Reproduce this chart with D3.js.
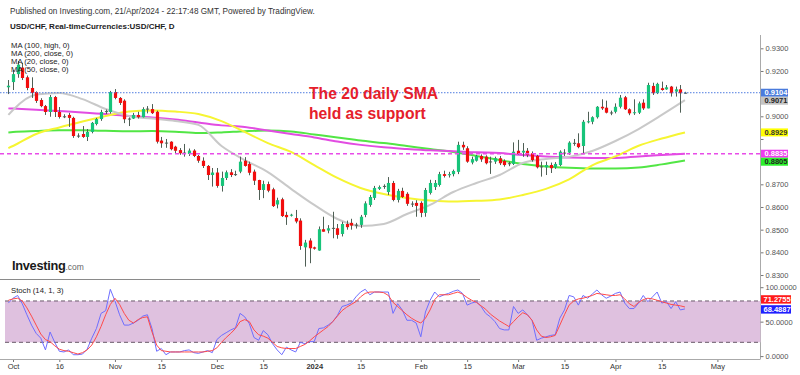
<!DOCTYPE html>
<html><head><meta charset="utf-8">
<script src="https://cdn.jsdelivr.net/npm/d3@7/dist/d3.min.js"></script>
<style>body{margin:0;background:#fff}svg{display:block;font-family:"Liberation Sans",Arial,sans-serif}</style>
</head><body><svg id="c" width="800" height="375"></svg>
<script>
// ---- DATA ----
// candle index 0 = 2 Oct 2023 (first trading day of October); first candle is index -1 (29 Sep)
const firstIndex = -1;
const opens  = [0.9128,0.9151,0.9186,0.9215,0.9172,0.9125,0.9107,0.9072,0.9045,0.9019,0.9085,0.9019,0.9000,0.9006,0.8993,0.8915,0.8922,0.8909,0.8931,0.8966,0.8988,0.9023,0.9019,0.9107,0.9081,0.9069,0.8987,0.8990,0.9006,0.8996,0.9030,0.9032,0.9020,0.8893,0.8883,0.8888,0.8866,0.8851,0.8838,0.8834,0.8849,0.8825,0.8804,0.8781,0.8741,0.8752,0.8693,0.8728,0.8753,0.8742,0.8756,0.8804,0.8790,0.8756,0.8719,0.8675,0.8701,0.8678,0.8611,0.8634,0.8565,0.8562,0.8551,0.8540,0.8422,0.8452,0.8422,0.8408,0.8502,0.8496,0.8506,0.8506,0.8481,0.8525,0.8530,0.8519,0.8521,0.8565,0.8609,0.8640,0.8680,0.8690,0.8666,0.8706,0.8631,0.8671,0.8658,0.8612,0.8618,0.8618,0.8574,0.8662,0.8688,0.8697,0.8745,0.8740,0.8745,0.8755,0.8874,0.8859,0.8796,0.8804,0.8825,0.8822,0.8798,0.8800,0.8815,0.8803,0.8790,0.8790,0.8848,0.8840,0.8848,0.8837,0.8825,0.8776,0.8775,0.8785,0.8775,0.8785,0.8840,0.8840,0.8880,0.8881,0.8869,0.8974,0.8976,0.8996,0.9042,0.9038,0.9014,0.9020,0.9042,0.9084,0.9031,0.9014,0.9016,0.9060,0.9035,0.9134,0.9102,0.9124,0.9119,0.9131,0.9109,0.9119,0.9104];
const highs  = [0.9160,0.9204,0.9244,0.9236,0.9180,0.9172,0.9110,0.9080,0.9050,0.9094,0.9090,0.9041,0.9009,0.9015,0.8998,0.8925,0.8957,0.8944,0.8975,0.8993,0.9029,0.9030,0.9112,0.9120,0.9085,0.9075,0.8995,0.9015,0.9020,0.9040,0.9045,0.9054,0.9025,0.8909,0.8900,0.8890,0.8870,0.8860,0.8878,0.8858,0.8855,0.8830,0.8819,0.8785,0.8772,0.8772,0.8756,0.8761,0.8767,0.8760,0.8822,0.8820,0.8800,0.8765,0.8720,0.8716,0.8712,0.8685,0.8641,0.8641,0.8579,0.8570,0.8587,0.8550,0.8455,0.8462,0.8425,0.8514,0.8557,0.8520,0.8579,0.8525,0.8535,0.8540,0.8548,0.8530,0.8565,0.8625,0.8653,0.8693,0.8695,0.8700,0.8732,0.8715,0.8680,0.8685,0.8665,0.8625,0.8630,0.8625,0.8684,0.8720,0.8719,0.8755,0.8760,0.8755,0.8765,0.8888,0.8888,0.8868,0.8822,0.8830,0.8832,0.8828,0.8822,0.8822,0.8825,0.8810,0.8800,0.8885,0.8896,0.8882,0.8860,0.8845,0.8830,0.8800,0.8800,0.8796,0.8798,0.8850,0.8855,0.8890,0.8900,0.8925,0.8984,0.9020,0.9000,0.9045,0.9075,0.9069,0.9025,0.9057,0.9094,0.9090,0.9035,0.9075,0.9065,0.9075,0.9148,0.9148,0.9148,0.9153,0.9138,0.9134,0.9131,0.9138,0.9108];
const lows   = [0.9098,0.9116,0.9170,0.9160,0.9115,0.9081,0.9059,0.9040,0.9006,0.8998,0.8997,0.8990,0.8992,0.8953,0.8905,0.8905,0.8905,0.8891,0.8925,0.8960,0.8980,0.9010,0.9012,0.9075,0.9050,0.8970,0.8957,0.8988,0.8990,0.8995,0.9013,0.9010,0.8880,0.8861,0.8861,0.8850,0.8834,0.8830,0.8822,0.8825,0.8820,0.8795,0.8772,0.8719,0.8690,0.8685,0.8668,0.8719,0.8732,0.8737,0.8749,0.8778,0.8740,0.8697,0.8631,0.8639,0.8665,0.8600,0.8594,0.8556,0.8521,0.8558,0.8528,0.8411,0.8337,0.8352,0.8412,0.8407,0.8491,0.8484,0.8462,0.8460,0.8470,0.8500,0.8500,0.8505,0.8508,0.8555,0.8601,0.8631,0.8675,0.8680,0.8653,0.8625,0.8620,0.8640,0.8605,0.8600,0.8557,0.8555,0.8557,0.8655,0.8675,0.8690,0.8730,0.8730,0.8735,0.8745,0.8852,0.8795,0.8788,0.8800,0.8799,0.8788,0.8746,0.8790,0.8785,0.8778,0.8780,0.8785,0.8830,0.8821,0.8820,0.8800,0.8770,0.8734,0.8741,0.8750,0.8768,0.8780,0.8825,0.8830,0.8870,0.8859,0.8837,0.8969,0.8965,0.8990,0.9028,0.9013,0.9005,0.9013,0.9035,0.9028,0.9005,0.9006,0.9010,0.9028,0.9035,0.9094,0.9098,0.9113,0.9117,0.9087,0.9087,0.9016,0.9100];
const closes = [0.9135,0.9186,0.9228,0.9169,0.9125,0.9103,0.9068,0.9045,0.9019,0.9085,0.9019,0.8997,0.8997,0.8993,0.8913,0.8913,0.8909,0.8931,0.8971,0.8988,0.9019,0.9019,0.9107,0.9081,0.9059,0.8987,0.8990,0.9006,0.8996,0.9032,0.9034,0.9014,0.8888,0.8881,0.8884,0.8855,0.8848,0.8837,0.8840,0.8849,0.8825,0.8804,0.8781,0.8741,0.8752,0.8693,0.8728,0.8753,0.8741,0.8745,0.8800,0.8781,0.8751,0.8716,0.8675,0.8701,0.8672,0.8604,0.8630,0.8560,0.8555,0.8566,0.8536,0.8428,0.8443,0.8418,0.8416,0.8502,0.8491,0.8506,0.8508,0.8477,0.8525,0.8511,0.8518,0.8522,0.8557,0.8616,0.8644,0.8684,0.8688,0.8693,0.8706,0.8631,0.8671,0.8644,0.8614,0.8615,0.8605,0.8574,0.8675,0.8706,0.8706,0.8745,0.8737,0.8745,0.8759,0.8874,0.8863,0.8800,0.8811,0.8825,0.8810,0.8793,0.8801,0.8815,0.8793,0.8785,0.8793,0.8844,0.8834,0.8848,0.8829,0.8807,0.8775,0.8779,0.8785,0.8771,0.8790,0.8844,0.8837,0.8884,0.8883,0.8864,0.8976,0.8978,0.8996,0.9042,0.9035,0.9016,0.9017,0.9042,0.9082,0.9031,0.9013,0.9018,0.9057,0.9035,0.9138,0.9102,0.9143,0.9116,0.9128,0.9102,0.9119,0.9102,0.9104];

// moving averages, read at these candle indices
const maAt   = [-1,0,5,10,15,20,25,30,35,40,45,50,55,60,65,70,75,80,85,90,95,100,105,110,115,120,125,130,135,140,145];
const ma20   = [0.9006,0.9028,0.9096,0.9103,0.9076,0.9032,0.9001,0.8990,0.8979,0.8962,0.8869,0.8807,0.8754,0.8680,0.8609,0.8547,0.8516,0.8525,0.8569,0.8609,0.8666,0.8706,0.8741,0.8794,0.8812,0.8821,0.8847,0.8891,0.8944,0.9006,0.9071];
const ma50   = [0.8860,0.8869,0.8922,0.8951,0.8977,0.9001,0.9021,0.9026,0.9021,0.9010,0.8979,0.8931,0.8882,0.8843,0.8785,0.8728,0.8684,0.8657,0.8640,0.8629,0.8624,0.8627,0.8633,0.8653,0.8680,0.8722,0.8784,0.8823,0.8870,0.8902,0.8929];
const ma100h = [0.9035,0.9034,0.9029,0.9023,0.9017,0.9010,0.9001,0.8995,0.8986,0.8973,0.8960,0.8953,0.8937,0.8922,0.8907,0.8889,0.8874,0.8863,0.8856,0.8850,0.8846,0.8841,0.8838,0.8829,0.8823,0.8818,0.8816,0.8816,0.8823,0.8829,0.8835];
const ma200  = [0.8929,0.8931,0.8935,0.8938,0.8938,0.8936,0.8934,0.8935,0.8932,0.8926,0.8929,0.8934,0.8937,0.8933,0.8920,0.8907,0.8893,0.8882,0.8869,0.8856,0.8843,0.8825,0.8807,0.8790,0.8779,0.8773,0.8770,0.8770,0.8774,0.8788,0.8805];

// stochastic (14,1,3), one value per candle
const stochK = [77,84,88,76,60,45,33,26,9,35,20,7,6,9,2,2,3,10,26,40,62,66,97,80,60,45,45,48,52,58,60,40,7,11,2,6,6,6,8,9,5,4,6,8,5,24,30,34,38,41,62,57,47,27,23,37,31,18,9,2,13,9,6,20,18,21,21,40,41,45,50,59,72,74,77,86,93,97,89,93,93,93,93,62,76,67,52,52,48,28,64,81,93,86,89,91,94,96,91,74,77,79,72,62,57,50,40,38,38,72,62,67,60,52,23,26,28,30,31,55,67,88,86,74,88,84,90,96,89,84,87,91,93,77,69,69,77,88,79,86,93,77,79,69,79,67,68.4887];
const stochD = [81,83,84,80,70,58,45,32,24,21,15,10,8,7,5,3,5,9,16,28,43,60,75,84,75,62,52,48,53,56,57,35,16,8,7,6,6,6,6,6,6,6,6,7,8,12,20,27,33,40,50,53,50,38,31,29,26,20,14,12,11,11,11,14,17,22,28,33,38,43,50,58,66,71,75,79,86,91,93,93,93,92,88,78,72,66,60,55,51,48,55,67,82,89,89,89,91,93,90,85,81,78,73,68,61,56,51,47,43,50,57,63,60,52,38,29,27,28,30,45,60,74,80,83,84,86,88,91,90,89,88,88,89,83,76,72,78,82,84,83,81,79,77,75,74,73,71.2755];

// axes
const priceTicks = [0.83,0.84,0.85,0.86,0.87,0.88,0.89,0.90,0.91,0.92,0.93];
const stochTicks = [0,50,100];
const dateTickAt = [0,10,22,32,44,54,65,75,88,98,109,119,130,140,152];
const dateTickLabels = ["Oct","16","Nov","15","Dec","15","2024","15","Feb","15","Mar","15","Apr","15","May"];
const maLegend = ["MA (100, high, 0)","MA (200, close, 0)","MA (20, close, 0)","MA (50, close, 0)"];

// ---- DRAW ----
const svg = d3.select('#c');
const F = '"Liberation Sans",Arial,sans-serif';
const x  = d3.scaleLinear().domain([0,152]).range([13,717.4]);
const y  = d3.scaleLinear().domain([0.83,0.93]).range([275,48.3]);
const ys = d3.scaleLinear().domain([0,100]).range([356.1,287.2]);
const axisX = 760.5;

// header
svg.append('text').attr('x',10).attr('y',14).attr('font-size',8.2).attr('fill','#333')
  .text('Published on Investing.com, 21/Apr/2024 - 22:17:48 GMT, Powered by TradingView.');
svg.append('text').attr('x',10).attr('y',28.5).attr('font-size',8).attr('font-weight','bold').attr('fill','#222')
  .text('USD/CHF, Real-timeCurrencies:USD/CHF, D');

// MA lines
const candles = opens.map((o,k)=>({i:k+firstIndex,o,h:highs[k],l:lows[k],c:closes[k]}));
const maLine = vals => d3.line().x((d,k)=>x(maAt[k])).y(d=>y(d)).curve(d3.curveMonotoneX)(vals);
const mas = [[ma200,'#52e645'],[ma100h,'#e24ce2'],[ma50,'#f6f532'],[ma20,'#c9c9c9']];
svg.append('g').selectAll('path').data(mas).join('path')
  .attr('d',d=>maLine(d[0])).attr('fill','none').attr('stroke',d=>d[1]).attr('stroke-width',2);

// candles
const up='#17c47a', dn='#f20d0d', wick='#4f5f55';
const cg = svg.append('g');
const cx = d => Math.round(x(d.i))+0.5;
cg.selectAll('line').data(candles).join('line')
  .attr('x1',cx).attr('x2',cx).attr('y1',d=>y(d.h)).attr('y2',d=>y(d.l))
  .attr('stroke',wick).attr('stroke-width',1);
cg.selectAll('rect').data(candles).join('rect')
  .attr('x',d=>cx(d)-1.6).attr('width',3.2)
  .attr('y',d=>y(Math.max(d.o,d.c)))
  .attr('height',d=>Math.max(1,Math.abs(y(d.o)-y(d.c))))
  .attr('fill',d=>Math.abs(d.c-d.o)<0.0004?wick:(d.c>=d.o?up:dn));

// horizontal reference lines
const last = closes[closes.length-1];
svg.append('line').attr('x1',0).attr('x2',axisX).attr('y1',y(last)).attr('y2',y(last))
  .attr('stroke','#4f7ce0').attr('stroke-width',1).attr('stroke-dasharray','1.5,1.5');
const mag = ma100h[ma100h.length-1];
svg.append('line').attr('x1',0).attr('x2',axisX).attr('y1',y(mag)).attr('y2',y(mag))
  .attr('stroke','#e84ce8').attr('stroke-width',1.5).attr('stroke-dasharray','4,3');

// MA legend
svg.append('g').selectAll('text').data(maLegend).join('text')
  .attr('x',11).attr('y',(d,k)=>47.8+k*8.1).attr('font-size',7.7).attr('fill','#222').text(d=>d);

// annotation
const ann = svg.append('text').attr('font-size',15.7).attr('font-weight','bold').attr('fill','#e5202b');
ann.append('tspan').attr('x',309).attr('y',99).text('The 20 daily SMA');
ann.append('tspan').attr('x',309).attr('y',118.5).text('held as support');

// Investing logo
const logo = svg.append('text').attr('x',12).attr('y',269.5);
logo.append('tspan').attr('font-size',12.8).attr('font-weight','bold').attr('fill','#1a1a1a').attr('letter-spacing',-0.3).text('Investing');
logo.append('tspan').attr('font-size',8.5).attr('fill','#666').text('.com');

// separator line
svg.append('line').attr('x1',0).attr('x2',480).attr('y1',279.5).attr('y2',279.5).attr('stroke','#8a8a8a').attr('stroke-width',1.2);

// price labels on the axis (computed first so covered tick labels can be dropped)
const tags = [
  [last, '#4a7bdc','#fff'],
  [ma20[ma20.length-1], '#c4c4c4','#222'],
  [ma50[ma50.length-1], '#ffff00','#333'],
  [mag, '#ee3cee','#fff'],
  [ma200[ma200.length-1], '#2bf02b','#222']
].map(t=>({v:t[0],bg:t[1],fg:t[2],cy:y(t[0])})).sort((a,b)=>a.cy-b.cy);
for(let k=1;k<tags.length;k++){ if(tags[k].cy<tags[k-1].cy+8) tags[k].cy=tags[k-1].cy+8; }

// right price axis
const ay = svg.append('g').attr('transform',`translate(${axisX},0)`)
  .call(d3.axisRight(y).tickValues(priceTicks).tickFormat(d3.format('.4f')).tickSize(3).tickPadding(2));
ay.select('.domain').remove();
ay.selectAll('line').attr('stroke','#777');
ay.selectAll('text').attr('font-size',7.5).attr('fill','#555').attr('font-family',F);
ay.selectAll('.tick').filter(d=>tags.some(t=>Math.abs(t.cy-y(d))<8)).select('text').remove();
svg.append('line').attr('x1',axisX).attr('x2',axisX).attr('y1',35).attr('y2',359).attr('stroke','#aaa').attr('stroke-width',1);

const tg = svg.append('g').selectAll('g').data(tags).join('g').attr('transform',d=>`translate(${axisX+0.5},${d.cy})`);
tg.append('rect').attr('x',0).attr('y',-4).attr('width',27).attr('height',8).attr('fill',d=>d.bg);
tg.append('text').attr('x',3.5).attr('y',2.7).attr('font-size',7.5).attr('font-weight','bold').attr('fill',d=>d.fg).text(d=>d3.format('.4f')(d.v));

// stochastic panel
svg.append('rect').attr('x',5).attr('width',axisX-5).attr('y',ys(80)).attr('height',ys(20)-ys(80)).attr('fill','#dfc1df');
[80,20].forEach(v=>svg.append('line').attr('x1',5).attr('x2',axisX).attr('y1',ys(v)).attr('y2',ys(v))
  .attr('stroke','#6a5a6a').attr('stroke-width',1).attr('stroke-dasharray','4,3'));
const sLine = arr => d3.line().x((d,k)=>x(k+firstIndex)).y(d=>ys(d))(arr);
svg.append('path').attr('d',sLine(stochK)).attr('fill','none').attr('stroke','#6e6eff').attr('stroke-width',1);
svg.append('path').attr('d',sLine(stochD)).attr('fill','none').attr('stroke','#ff4a4a').attr('stroke-width',1);
svg.append('text').attr('x',11).attr('y',292.5).attr('font-size',7.7).attr('fill','#222').text('Stoch (14, 1, 3)');

const as = svg.append('g').attr('transform',`translate(${axisX},0)`)
  .call(d3.axisRight(ys).tickValues(stochTicks).tickFormat(d3.format('.4f')).tickSize(3).tickPadding(2));
as.select('.domain').remove();
as.selectAll('line').attr('stroke','#777');
as.selectAll('text').attr('font-size',7.5).attr('fill','#555').attr('font-family',F);

const kLast = stochK[stochK.length-1], dLast = stochD[stochD.length-1];
let kY = ys(kLast)+0.5, dY = ys(dLast);
if (dY > kY-10) dY = kY-10;
[[dLast,dY,'#ff1a1a'],[kLast,kY,'#1f1fff']].forEach(t=>{
  const gg = svg.append('g').attr('transform',`translate(${axisX+0.5},${t[1]})`);
  gg.append('rect').attr('x',0).attr('y',-4.2).attr('width',30).attr('height',8.4).attr('fill',t[2]);
  gg.append('text').attr('x',2.5).attr('y',2.7).attr('font-size',7.5).attr('font-weight','bold').attr('fill','#fff').text(d3.format('.4f')(t[0]));
});

// bottom date axis
const ax = svg.append('g').attr('transform','translate(0,359)')
  .call(d3.axisBottom(x).tickValues(dateTickAt).tickFormat((d,k)=>dateTickLabels[k]).tickSize(3).tickPadding(2));
ax.select('.domain').remove();
ax.selectAll('line').attr('stroke','#777');
ax.selectAll('text').attr('font-size',7.5).attr('fill','#333').attr('font-family',F)
  .attr('font-weight',(d,k)=>dateTickLabels[k]==='2024'?'bold':'normal');
svg.append('line').attr('x1',0).attr('x2',axisX).attr('y1',359.5).attr('y2',359.5).attr('stroke','#aaa').attr('stroke-width',1);
</script></body></html>
